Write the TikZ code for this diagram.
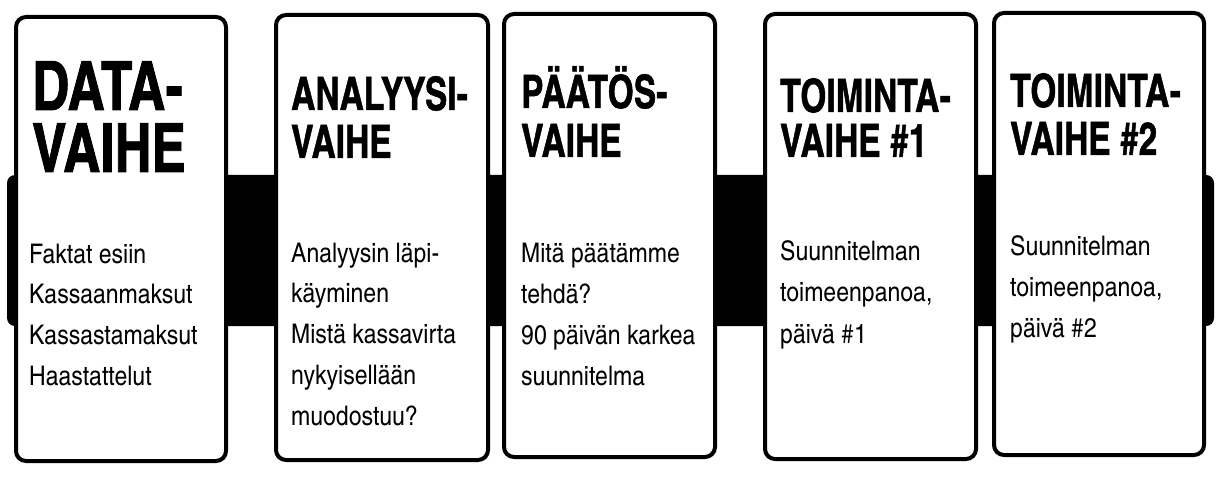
\documentclass[tikz,border=0pt]{standalone}
\usepackage{fontspec}
\newfontfamily\titlefont[FakeStretch=0.89,FakeBold=1]{TeX Gyre Heros Cn}
\newfontfamily\bigtitlefont[FakeStretch=0.92,FakeBold=1.2]{TeX Gyre Heros Cn}
\newfontfamily\bodyfont[FakeStretch=1.04]{TeX Gyre Heros Cn}
\tikzset{
  band/.style={fill=black, rounded corners=8pt},
  phasebox/.style={draw=black, fill=white, line width=4pt, rounded corners=10pt},
  bigtitle/.style={inner sep=0pt, anchor=base west, font=\bigtitlefont\bfseries\fontsize{68}{68}\selectfont},
  title/.style={inner sep=0pt, anchor=base west, font=\titlefont\bfseries\fontsize{46}{46}\selectfont},
  bodytext/.style={inner sep=0pt, anchor=base west, font=\bodyfont\fontsize{27}{27}\selectfont}
}
\begin{document}
\begin{tikzpicture}[x=1pt, y=-1pt]
\useasboundingbox (0,0) rectangle (1222,478);
% band behind the boxes
\path[band] (7,175) rectangle (1214,326);
% boxes
\path[phasebox] (16,17) rectangle (226,461);
\path[phasebox] (276,15) rectangle (488,460);
\path[phasebox] (504,14) rectangle (715,457);
\path[phasebox] (765,14) rectangle (976,459);
\path[phasebox] (994,13) rectangle (1204,455);
% box 1
\node[bigtitle] (t1a) at (32,110) {DATA-};
\node[bigtitle] (t1b) at (32,172) {VAIHE};
\foreach [count=\k] \t in {Faktat esiin, Kassaanmaksut, Kassastamaksut, Haastattelut}
  \node[bodytext] (b1-\k) at (29,{263+40.7*(\k-1)}) {\t};
% box 2
\node[title] (t2a) at (291,110) {ANALYYSI-};
\node[title] (t2b) at (291,158) {VAIHE};
\foreach [count=\k] \t in {Analyysin läpi-, käyminen, Mistä kassavirta, nykyisellään, muodostuu?}
  \node[bodytext] (b2-\k) at (291,{262+40.8*(\k-1)}) {\t};
% box 3
\node[title] (t3a) at (521,108) {PÄÄTÖS-};
\node[title] (t3b) at (521,157) {VAIHE};
\foreach [count=\k] \t in {Mitä päätämme, tehdä?, 90 päivän karkea, suunnitelma}
  \node[bodytext] (b3-\k) at (521,{262+41*(\k-1)}) {\t};
% box 4
\node[title] (t4a) at (780,112) {TOIMINTA-};
\node[title] (t4b) at (780,157) {VAIHE \#1};
\foreach [count=\k] \t in {Suunnitelman, {toimeenpanoa,}, päivä \#1}
  \node[bodytext] (b4-\k) at (780,{260+41.5*(\k-1)}) {\t};
% box 5
\node[title] (t5a) at (1010,107) {TOIMINTA-};
\node[title] (t5b) at (1010,155) {VAIHE \#2};
\foreach [count=\k] \t in {Suunnitelman, {toimeenpanoa,}, päivä \#2}
  \node[bodytext] (b5-\k) at (1010,{255+41*(\k-1)}) {\t};
\end{tikzpicture}
\end{document}
